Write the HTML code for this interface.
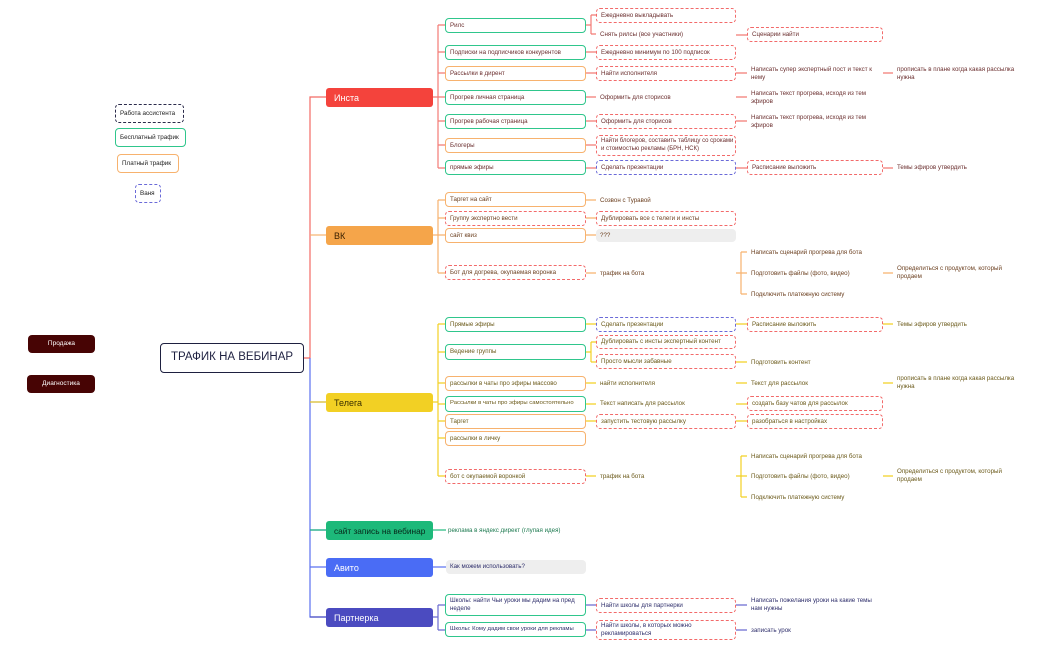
<!DOCTYPE html>
<html><head><meta charset="utf-8"><style>
body{margin:0;width:1050px;height:650px;background:#fff;position:relative;overflow:hidden;font-family:"Liberation Sans","Noto Sans CJK SC",sans-serif}
.n{position:absolute;font-size:6.2px;border-radius:4px;box-sizing:border-box;padding-left:4px;display:flex;align-items:center;line-height:7.6px;white-space:nowrap;background:#fff;overflow:hidden}
.g{border:1.2px solid #2fc68c}.o{border:1.2px solid #f7b26e}.r{border:1.2px dashed #f26a6a}.b{border:1.2px dashed #6a6ad8}.k{border:1.2px dashed #2a2a4a}
.t{background:transparent;white-space:normal;overflow:visible}.gr{background:#eeeeee}
.L1{position:absolute;left:326px;width:107px;height:19px;border-radius:3px;font-size:9px;display:flex;align-items:center;padding-left:8px;box-sizing:border-box;white-space:nowrap}
.I{color:#6b2f2f}.V{color:#6b3f1f}.T{color:#6b5a1a}.P{color:#2e2e6b}
</style></head><body>
<svg width="1050" height="650" style="position:absolute;left:0;top:0" fill="none" stroke-width="1.2">
<g stroke="#f26a64"><path d="M304,358H310V97H326"/></g>
<path d="M310,235H326" stroke="#f7b26e"/>
<g stroke="#5a70f0"><path d="M310,358V617H326M310,402H326M310,530H326M310,567H326"/></g>
<path d="M310,402H326" stroke="#f2d024"/><path d="M310,530H326" stroke="#1db97a"/><path d="M310,617H326" stroke="#5050c0"/>
<g stroke="#f27a74"><path d="M433,97H438M438,25V168M438,25H445M438,52H445M438,73H445M438,97H445M438,121H445M438,145H445M438,168H445
M586,25H591M591,15V34M591,15H596M591,34H596M586,52H596M586,73H596M586,97H596M586,121H596M586,145H596M586,168H596
M736,35H747M736,73H747M736,97H747M736,121H747M736,168H747M883,73H893M883,168H893"/></g>
<g stroke="#f7b26e"><path d="M433,235H438M438,200V273M438,200H445M438,218H445M438,235H445M438,273H445M586,200H596M586,218H596M586,235H596M586,273H596
M736,273H741M741,252V294M741,252H747M741,273H747M741,294H747M883,273H893"/></g>
<g stroke="#f2d024"><path d="M433,402H438M438,324V476M438,324H445M438,352H445M438,383H445M438,404H445M438,421H445M438,438H445M438,476H445
M586,324H596M586,352H591M591,342V362M591,342H596M591,362H596M586,383H596M586,404H596M586,421H596M586,476H596
M736,324H747M736,362H747M736,383H747M736,404H747M736,421H747M883,324H893M883,383H893
M736,476H741M741,456V497M741,456H747M741,476H747M741,497H747M883,476H893"/></g>
<path d="M433,530H446" stroke="#1db97a"/><path d="M433,567H446" stroke="#5a70f0"/>
<g stroke="#6b6bd0"><path d="M433,617H438M438,605V630M438,605H445M438,630H445M586,605H596M586,630H596M736,605H747M736,630H747"/></g>
</svg>

<div class="n k" style="left:115px;top:104px;width:69px;height:19px;font-size:6.3px;color:#222">Работа ассистента</div>
<div class="n g" style="left:115px;top:128px;width:71px;height:19px;font-size:6.3px;color:#222">Бесплатный трафик</div>
<div class="n o" style="left:117px;top:154px;width:62px;height:19px;font-size:6.3px;color:#222">Платный трафик</div>
<div class="n b" style="left:135px;top:184px;width:26px;height:19px;font-size:6.3px;color:#222">Ваня</div>
<div class="n" style="left:28px;top:335px;width:67px;height:18px;background:#470404;color:#fff;justify-content:center;padding:0;font-size:6.5px">Продажа</div>
<div class="n" style="left:27px;top:375px;width:68px;height:18px;background:#470404;color:#fff;justify-content:center;padding:0;font-size:6.5px">Диагностика</div>
<div class="n" style="left:160px;top:343px;width:144px;height:30px;border:1.5px solid #1e2040;color:#1e2040;font-size:11.5px;justify-content:center;padding:0">ТРАФИК НА ВЕБИНАР</div>

<div class="L1" style="top:88px;background:#f4433c;color:#fff">Инста</div>
<div class="L1" style="top:226px;background:#f5a54a;color:#3a2000">ВК</div>
<div class="L1" style="top:393px;background:#f2d024;color:#3a3000">Телега</div>
<div class="L1" style="top:521px;background:#1db97a;color:#06281a;font-size:8.3px">сайт запись на вебинар</div>
<div class="L1" style="top:558px;background:#4a6cf5;color:#fff">Авито</div>
<div class="L1" style="top:608px;background:#4b4bc0;color:#fff">Партнерка</div>

<!-- Инста -->
<div class="n g I" style="left:445px;top:18px;width:141px;height:15px">Рилс</div>
<div class="n g I" style="left:445px;top:45px;width:141px;height:15px">Подписки на подписчиков конкурентов</div>
<div class="n o I" style="left:445px;top:66px;width:141px;height:15px">Рассылки в дирент</div>
<div class="n g I" style="left:445px;top:90px;width:141px;height:15px">Прогрев личная страница</div>
<div class="n g I" style="left:445px;top:114px;width:141px;height:15px">Прогрев рабочая страница</div>
<div class="n o I" style="left:445px;top:138px;width:141px;height:15px">Блогеры</div>
<div class="n g I" style="left:445px;top:160px;width:141px;height:15px">прямые эфиры</div>
<div class="n r I" style="left:596px;top:8px;width:140px;height:15px">Ежедневно выкладывать</div>
<div class="n t I" style="left:596px;top:29px;width:140px;height:11px">Снять рилсы (все участники)</div>
<div class="n r I" style="left:596px;top:45px;width:140px;height:15px">Ежедневно минимум по 100 подписок</div>
<div class="n r I" style="left:596px;top:66px;width:140px;height:15px">Найти исполнителя</div>
<div class="n t I" style="left:596px;top:92px;width:140px;height:11px">Оформить для сторисов</div>
<div class="n r I" style="left:596px;top:114px;width:140px;height:15px">Оформить для сторисов</div>
<div class="n r I" style="left:596px;top:135px;width:140px;height:21px;white-space:normal;font-size:6px">Найти блогеров, составить таблицу со сроками и стоимостью рекламы (БРН, НСК)</div>
<div class="n b I" style="left:596px;top:160px;width:140px;height:15px">Сделать презентации</div>
<div class="n r I" style="left:747px;top:27px;width:136px;height:15px">Сценарии найти</div>
<div class="n t I" style="left:747px;top:65px;width:136px;height:17px">Написать супер экспертный пост и текст к нему</div>
<div class="n t I" style="left:747px;top:89px;width:136px;height:17px">Написать текст прогрева, исходя из тем эфиров</div>
<div class="n t I" style="left:747px;top:113px;width:136px;height:17px">Написать текст прогрева, исходя из тем эфиров</div>
<div class="n r I" style="left:747px;top:160px;width:136px;height:15px">Расписание выложить</div>
<div class="n t I" style="left:893px;top:65px;width:130px;height:17px">прописать в плане когда какая рассылка нужна</div>
<div class="n t I" style="left:893px;top:162px;width:136px;height:11px">Темы эфиров утвердить</div>

<!-- ВК -->
<div class="n o V" style="left:445px;top:192px;width:141px;height:15px">Таргет на сайт</div>
<div class="n r V" style="left:445px;top:211px;width:141px;height:15px">Группу экспертно вести</div>
<div class="n o V" style="left:445px;top:228px;width:141px;height:15px">сайт квиз</div>
<div class="n r V" style="left:445px;top:265px;width:141px;height:15px">Бот для догрева, окупаемая воронка</div>
<div class="n t V" style="left:596px;top:195px;width:140px;height:11px">Созвон с Туравой</div>
<div class="n r V" style="left:596px;top:211px;width:140px;height:15px">Дублировать все с телеги и инсты</div>
<div class="n gr V" style="left:596px;top:229px;width:140px;height:13px">???</div>
<div class="n t V" style="left:596px;top:268px;width:140px;height:11px">трафик на бота</div>
<div class="n t V" style="left:747px;top:247px;width:136px;height:11px">Написать сценарий прогрева для бота</div>
<div class="n t V" style="left:747px;top:268px;width:136px;height:11px">Подготовить файлы (фото, видео)</div>
<div class="n t V" style="left:747px;top:289px;width:136px;height:11px">Подключить платежную систему</div>
<div class="n t V" style="left:893px;top:264px;width:118px;height:17px">Определиться с продуктом, который продаем</div>

<!-- Телега -->
<div class="n g T" style="left:445px;top:317px;width:141px;height:15px">Прямые эфиры</div>
<div class="n g T" style="left:445px;top:344px;width:141px;height:16px">Ведение группы</div>
<div class="n o T" style="left:445px;top:376px;width:141px;height:15px">рассылки в чаты про эфиры массово</div>
<div class="n g T" style="left:445px;top:396px;width:141px;height:16px;font-size:5.9px">Рассылки в чаты про эфиры самостоятельно</div>
<div class="n o T" style="left:445px;top:414px;width:141px;height:15px">Таргет</div>
<div class="n o T" style="left:445px;top:431px;width:141px;height:15px">рассылки в личку</div>
<div class="n r T" style="left:445px;top:469px;width:141px;height:15px">бот с окупаемой воронкой</div>
<div class="n b T" style="left:596px;top:317px;width:140px;height:15px">Сделать презентации</div>
<div class="n r T" style="left:596px;top:335px;width:140px;height:14px">Дублировать с инсты экспертный контент</div>
<div class="n r T" style="left:596px;top:354px;width:140px;height:15px">Просто мысли забавные</div>
<div class="n t T" style="left:596px;top:378px;width:140px;height:11px">найти исполнителя</div>
<div class="n t T" style="left:596px;top:398px;width:140px;height:11px">Текст написать для рассылок</div>
<div class="n r T" style="left:596px;top:414px;width:140px;height:15px">запустить тестовую рассылку</div>
<div class="n t T" style="left:596px;top:471px;width:140px;height:11px">трафик на бота</div>
<div class="n r T" style="left:747px;top:317px;width:136px;height:15px">Расписание выложить</div>
<div class="n t T" style="left:747px;top:357px;width:136px;height:11px">Подготовить контент</div>
<div class="n t T" style="left:747px;top:378px;width:136px;height:11px">Текст для рассылок</div>
<div class="n r T" style="left:747px;top:396px;width:136px;height:15px">создать базу чатов для рассылок</div>
<div class="n r T" style="left:747px;top:414px;width:136px;height:15px">разобраться в настройках</div>
<div class="n t T" style="left:747px;top:451px;width:136px;height:11px">Написать сценарий прогрева для бота</div>
<div class="n t T" style="left:747px;top:471px;width:136px;height:11px">Подготовить файлы (фото, видео)</div>
<div class="n t T" style="left:747px;top:492px;width:136px;height:11px">Подключить платежную систему</div>
<div class="n t T" style="left:893px;top:319px;width:136px;height:11px">Темы эфиров утвердить</div>
<div class="n t T" style="left:893px;top:374px;width:130px;height:17px">прописать в плане когда какая рассылка нужна</div>
<div class="n t T" style="left:893px;top:467px;width:118px;height:17px">Определиться с продуктом, который продаем</div>

<!-- site / avito -->
<div class="n t" style="left:444px;top:525px;width:160px;height:11px;color:#1d7a50">реклама в яндекс директ (глупая идея)</div>
<div class="n gr P" style="left:446px;top:560px;width:140px;height:14px">Как можем использовать?</div>

<!-- Партнерка -->
<div class="n g P" style="left:445px;top:594px;width:141px;height:22px;white-space:normal">Школы: найти Чьи уроки мы дадим на пред неделе</div>
<div class="n g P" style="left:445px;top:622px;width:141px;height:15px;font-size:5.9px">Школы: Кому дадим свои уроки для рекламы</div>
<div class="n r P" style="left:596px;top:598px;width:140px;height:15px">Найти школы для партнерки</div>
<div class="n r P" style="left:596px;top:620px;width:140px;height:20px;white-space:normal">Найти школы, в которых можно рекламироваться</div>
<div class="n t P" style="left:747px;top:596px;width:134px;height:17px">Написать пожелания уроки на какие темы нам нужны</div>
<div class="n t P" style="left:747px;top:625px;width:136px;height:11px">записать урок</div>
</body></html>
